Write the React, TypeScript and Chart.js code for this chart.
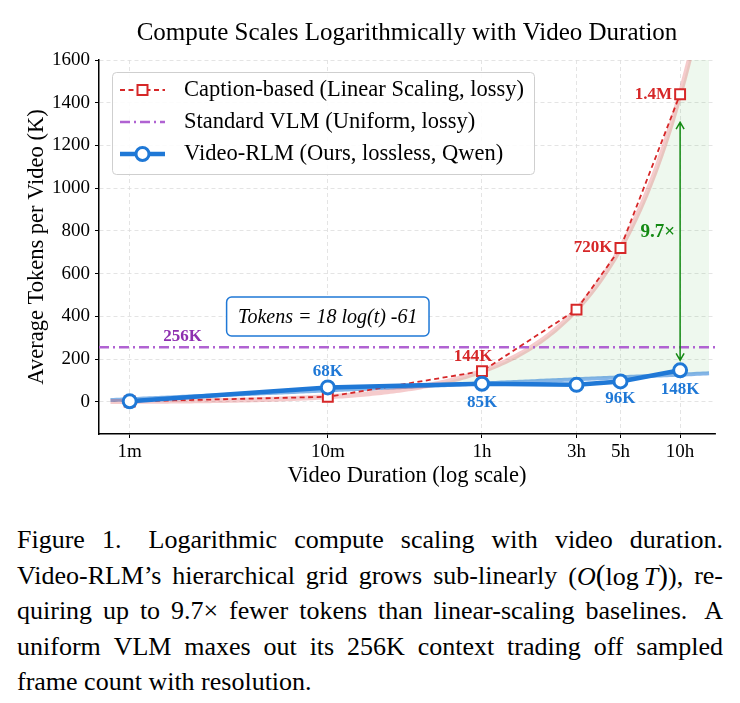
import React, { useEffect, useRef } from "react";
import { Chart, registerables } from "chart.js";

Chart.register(...registerables);

// Video durations in minutes, with their axis labels
const DURATIONS = [1, 10, 60, 180, 300, 600];
const DURATION_LABELS = ["1m", "10m", "1h", "3h", "5h", "10h"];

// Average tokens per video (thousands)
const CAPTION_TOKENS = [2.4, 24, 144, 432, 720, 1440];
const RLM_TOKENS = [3, 68, 85, 80, 96, 148];
const VLM_CONTEXT = 256;

const CAPTION_VALUE_LABELS = ["", "", "144K", "", "720K", "1.4M"];
const RLM_VALUE_LABELS = ["", "68K", "85K", "", "96K", "148K"];

const Y_TICKS = [0, 200, 400, 600, 800, 1000, 1200, 1400, 1600];

// Logarithmic fit of Video-RLM tokens: tokens = slope * ln(seconds) + intercept
const FIT_SLOPE = 18;
const FIT_INTERCEPT = -61;
const FIT_SPAN_MIN = [0.8, 840];

const SERIF = '"Liberation Serif", "Times New Roman", serif';
const RED = "#d62728";
const BLUE = "#1f78d6";
const PURPLE = "#b062d2";
const PURPLE_TEXT = "#8e2fb0";
const GREEN = "#138a13";

const FIT_SAMPLES = 200;
const fitDurations = Array.from({ length: FIT_SAMPLES }, (_, i) =>
  FIT_SPAN_MIN[0] * Math.pow(FIT_SPAN_MIN[1] / FIT_SPAN_MIN[0], i / (FIT_SAMPLES - 1))
);
const captionRate = CAPTION_TOKENS[CAPTION_TOKENS.length - 1] / DURATIONS[DURATIONS.length - 1];
const rlmFit = fitDurations.map((t) => ({ x: t, y: FIT_SLOPE * Math.log(t * 60) + FIT_INTERCEPT }));
const captionFit = fitDurations.map((t) => ({ x: t, y: captionRate * t }));

function drawText(
  ctx: CanvasRenderingContext2D,
  str: string,
  x: number,
  y: number,
  font: string,
  color: string,
  align: CanvasTextAlign = "center"
) {
  ctx.font = font;
  ctx.fillStyle = color;
  ctx.textAlign = align;
  ctx.textBaseline = "middle";
  ctx.fillText(str, x, y);
}

function roundRect(ctx: CanvasRenderingContext2D, x: number, y: number, w: number, h: number, r: number) {
  ctx.beginPath();
  ctx.moveTo(x + r, y);
  ctx.lineTo(x + w - r, y);
  ctx.arcTo(x + w, y, x + w, y + r, r);
  ctx.lineTo(x + w, y + h - r);
  ctx.arcTo(x + w, y + h, x + w - r, y + h, r);
  ctx.lineTo(x + r, y + h);
  ctx.arcTo(x, y + h, x, y + h - r, r);
  ctx.lineTo(x, y + r);
  ctx.arcTo(x, y, x + r, y, r);
  ctx.closePath();
}

const overlayPlugin = {
  id: "overlay",
  afterDatasetsDraw(chart: any) {
    const ctx: CanvasRenderingContext2D = chart.ctx;
    const xs = chart.scales.x;
    const ys = chart.scales.y;
    ctx.save();

    // value labels on the caption-based series
    const bold = `bold 17px ${SERIF}`;
    CAPTION_VALUE_LABELS.forEach((lab, i) => {
      if (!lab) return;
      const px = xs.getPixelForValue(DURATIONS[i]);
      const py = ys.getPixelForValue(CAPTION_TOKENS[i]);
      if (i === 2) drawText(ctx, lab, px - 9, py - 15, bold, RED);
      else drawText(ctx, lab, px - 8, py, bold, RED, "right");
    });

    // value labels on the Video-RLM series
    RLM_VALUE_LABELS.forEach((lab, i) => {
      if (!lab) return;
      const px = xs.getPixelForValue(DURATIONS[i]);
      const py = ys.getPixelForValue(RLM_TOKENS[i]);
      const dy = i === 1 ? -16 : i === 4 ? 17 : 19;
      drawText(ctx, lab, px, py + dy, bold, BLUE);
    });

    // context limit label
    drawText(ctx, `${VLM_CONTEXT}K`, xs.getPixelForValue(1.85), ys.getPixelForValue(VLM_CONTEXT) - 11, bold, PURPLE_TEXT);

    // ratio arrow at the longest duration
    const last = DURATIONS.length - 1;
    const ax = xs.getPixelForValue(DURATIONS[last]);
    const yTop = ys.getPixelForValue(CAPTION_TOKENS[last]) + 28;
    const yBot = ys.getPixelForValue(RLM_TOKENS[last]) - 10;
    ctx.strokeStyle = GREEN;
    ctx.lineWidth = 1.5;
    ctx.beginPath();
    ctx.moveTo(ax, yTop);
    ctx.lineTo(ax, yBot);
    ctx.moveTo(ax - 4, yTop + 7);
    ctx.lineTo(ax, yTop);
    ctx.lineTo(ax + 4, yTop + 7);
    ctx.moveTo(ax - 4, yBot - 7);
    ctx.lineTo(ax, yBot);
    ctx.lineTo(ax + 4, yBot - 7);
    ctx.stroke();
    const ratio = CAPTION_TOKENS[last] / RLM_TOKENS[last];
    const midY = ys.getPixelForValue((CAPTION_TOKENS[last] + RLM_TOKENS[last]) / 2);
    drawText(ctx, `${ratio.toFixed(1)}\u00d7`, ax - 5, midY, `bold 19px ${SERIF}`, GREEN, "right");

    // fit formula box
    const formula = `Tokens = ${FIT_SLOPE} log(t) ${FIT_INTERCEPT}`;
    const bx = xs.getPixelForValue(10);
    const by = ys.getPixelForValue(400);
    const ffont = `italic 20px ${SERIF}`;
    ctx.font = ffont;
    const tw = ctx.measureText(formula).width;
    const bw = tw + 23;
    const bh = 39;
    roundRect(ctx, bx - bw / 2, by - bh / 2, bw, bh, 5);
    ctx.fillStyle = "#ffffff";
    ctx.fill();
    ctx.strokeStyle = BLUE;
    ctx.lineWidth = 1.5;
    ctx.stroke();
    drawText(ctx, formula, bx, by + 1, ffont, "#000");

    ctx.restore();
  },
  afterDraw(chart: any) {
    const ctx: CanvasRenderingContext2D = chart.ctx;
    const area = chart.chartArea;
    const cx = (area.left + area.right) / 2;
    const cy = (area.top + area.bottom) / 2;
    ctx.save();

    drawText(ctx, "Compute Scales Logarithmically with Video Duration", cx, 33, `25px ${SERIF}`, "#000");
    drawText(ctx, "Video Duration (log scale)", cx, 476, `22.5px ${SERIF}`, "#000");
    ctx.save();
    ctx.translate(37, cy);
    ctx.rotate(-Math.PI / 2);
    drawText(ctx, "Average Tokens per Video (K)", 0, 0, `22.5px ${SERIF}`, "#000");
    ctx.restore();

    // legend
    const lx = 112.5, ly = 72.5, lw = 422, lh = 102;
    roundRect(ctx, lx, ly, lw, lh, 4);
    ctx.fillStyle = "rgba(255,255,255,0.9)";
    ctx.fill();
    ctx.strokeStyle = "#cfcfcf";
    ctx.lineWidth = 1;
    ctx.stroke();

    const sx0 = 120, sx1 = 165, mx = 142.5;
    const rows = [90, 122, 154];
    // caption-based
    ctx.strokeStyle = RED;
    ctx.lineWidth = 1.8;
    ctx.setLineDash([5, 3.5]);
    ctx.beginPath();
    ctx.moveTo(sx0, rows[0]);
    ctx.lineTo(sx1, rows[0]);
    ctx.stroke();
    ctx.setLineDash([]);
    ctx.fillStyle = "#fff";
    ctx.lineWidth = 2;
    ctx.fillRect(mx - 5, rows[0] - 5, 10, 10);
    ctx.strokeRect(mx - 5, rows[0] - 5, 10, 10);
    // standard VLM
    ctx.strokeStyle = PURPLE;
    ctx.lineWidth = 2.5;
    ctx.setLineDash([10, 4, 2, 4]);
    ctx.beginPath();
    ctx.moveTo(sx0, rows[1]);
    ctx.lineTo(sx1, rows[1]);
    ctx.stroke();
    ctx.setLineDash([]);
    // Video-RLM
    ctx.strokeStyle = BLUE;
    ctx.lineWidth = 4.5;
    ctx.beginPath();
    ctx.moveTo(sx0, rows[2]);
    ctx.lineTo(sx1, rows[2]);
    ctx.stroke();
    ctx.lineWidth = 3;
    ctx.fillStyle = "#fff";
    ctx.beginPath();
    ctx.arc(mx, rows[2], 6.5, 0, Math.PI * 2);
    ctx.fill();
    ctx.stroke();

    const names = [
      "Caption-based (Linear Scaling, lossy)",
      "Standard VLM (Uniform, lossy)",
      "Video-RLM (Ours, lossless, Qwen)",
    ];
    names.forEach((n, i) => drawText(ctx, n, 184, rows[i], `22.5px ${SERIF}`, "#000", "left"));

    ctx.restore();
  },
};

function ChartCanvas() {
  const ref = useRef<HTMLCanvasElement | null>(null);
  useEffect(() => {
    if (!ref.current) return;
    const tickFont = { family: SERIF, size: 19 };
    const chart = new Chart(ref.current, {
      type: "line",
      data: {
        datasets: [
          {
            label: "log fit",
            data: rlmFit,
            borderColor: "rgba(31,120,214,0.55)",
            borderWidth: 4,
            pointRadius: 0,
            fill: false,
            order: 6,
          },
          {
            label: "linear fit",
            data: captionFit,
            borderColor: "rgba(214,39,40,0.24)",
            borderWidth: 5,
            pointRadius: 0,
            fill: { target: 0, above: "rgba(40,160,40,0.08)", below: "rgba(0,0,0,0)" },
            order: 5,
          },
          {
            label: "Standard VLM (Uniform, lossy)",
            data: [
              { x: 0.7, y: VLM_CONTEXT },
              { x: 900, y: VLM_CONTEXT },
            ],
            borderColor: PURPLE,
            borderWidth: 2.5,
            borderDash: [10, 4, 2, 4],
            pointRadius: 0,
            fill: false,
            order: 3,
          },
          {
            label: "Caption-based (Linear Scaling, lossy)",
            data: DURATIONS.map((d, i) => ({ x: d, y: CAPTION_TOKENS[i] })),
            borderColor: RED,
            borderWidth: 1.8,
            borderDash: [5, 3.5],
            pointStyle: "rect",
            pointRadius: 7,
            pointBorderWidth: 2,
            pointBackgroundColor: "#fff",
            pointBorderColor: RED,
            fill: false,
            order: 2,
          },
          {
            label: "Video-RLM (Ours, lossless, Qwen)",
            data: DURATIONS.map((d, i) => ({ x: d, y: RLM_TOKENS[i] })),
            borderColor: BLUE,
            borderWidth: 4.5,
            pointStyle: "circle",
            pointRadius: 6.5,
            pointBorderWidth: 3,
            pointBackgroundColor: "#fff",
            pointBorderColor: BLUE,
            fill: false,
            order: 1,
          },
        ],
      },
      options: {
        animation: false,
        responsive: false,
        maintainAspectRatio: false,
        devicePixelRatio: 1,
        layout: { padding: { top: 60, right: 25, left: 0, bottom: 0 } },
        plugins: {
          legend: { display: false },
          tooltip: { enabled: false },
          title: { display: false },
          filler: { drawTime: "beforeDatasetsDraw" },
        },
        scales: {
          x: {
            type: "logarithmic",
            min: 0.7,
            max: 900,
            afterBuildTicks: (s: any) => {
              s.ticks = DURATIONS.map((v) => ({ value: v }));
            },
            afterFit: (s: any) => {
              s.height = 66;
            },
            ticks: {
              autoSkip: false,
              maxRotation: 0,
              minRotation: 0,
              padding: 3,
              color: "#000",
              font: tickFont,
              callback: (v: any) => {
                const i = DURATIONS.indexOf(Number(v));
                return i >= 0 ? DURATION_LABELS[i] : "";
              },
            },
            grid: {
              color: "#dddddd",
              lineWidth: 0.8,
              tickColor: "#000",
              tickLength: 4,
              tickWidth: 1,
              tickBorderDash: [],
            },
            border: { display: true, color: "#000", width: 1.5, dash: [4, 3] },
          },
          y: {
            type: "linear",
            min: -150,
            max: 1600,
            afterBuildTicks: (s: any) => {
              s.ticks = Y_TICKS.map((v) => ({ value: v }));
            },
            afterFit: (s: any) => {
              s.width = 99;
            },
            ticks: {
              padding: 5,
              color: "#000",
              font: tickFont,
              callback: (v: any) => String(v),
            },
            grid: {
              color: "#dddddd",
              lineWidth: 0.8,
              tickColor: "#000",
              tickLength: 4,
              tickWidth: 1,
              tickBorderDash: [],
            },
            border: { display: true, color: "#000", width: 1.5, dash: [4, 3] },
          },
        },
      } as any,
      plugins: [overlayPlugin as any],
    });
    return () => chart.destroy();
  }, []);
  return (
    <canvas
      ref={ref}
      width={740}
      height={500}
      style={{ position: "absolute", left: 0, top: 0, width: 740, height: 500 }}
    />
  );
}

const justifiedRow = (words: React.ReactNode[], key: number) => (
  <div
    key={key}
    style={{
      display: "flex",
      justifyContent: "space-between",
      whiteSpace: "nowrap",
      width: 706,
      height: 35.5,
      lineHeight: "35.5px",
    }}
  >
    {words.map((w, i) => (
      <span key={i}>{w}</span>
    ))}
  </div>
);

function FigureCaption() {
  const rows: React.ReactNode[][] = [
    ["Figure", <span style={{ marginRight: 10 }}>1.</span>, "Logarithmic", "compute", "scaling", "with", "video", "duration."],
    [
      "Video-RLM\u2019s",
      "hierarchical",
      "grid",
      "grows",
      "sub-linearly",
      <span>
        (<i>O</i>
        <span style={{ fontSize: "1.12em" }}>(</span>log&thinsp;<i>T</i>
        <span style={{ fontSize: "1.12em" }}>)</span>),
      </span>,
      "re-",
    ],
    ["quiring", "up", "to", "9.7\u00d7", "fewer", "tokens", "than", "linear-scaling", <span style={{ marginRight: 6 }}>baselines.</span>, "A"],
    ["uniform", "VLM", "maxes", "out", "its", "256K", "context", "trading", "off", "sampled"],
  ];
  return (
    <div
      style={{
        position: "absolute",
        left: 17,
        top: 522,
        width: 706,
        fontFamily: SERIF,
        fontSize: 26,
        color: "#000",
      }}
    >
      {rows.map((r, i) => justifiedRow(r, i))}
      <div style={{ height: 35.5, lineHeight: "35.5px", whiteSpace: "nowrap" }}>frame count with resolution.</div>
    </div>
  );
}

export default function App() {
  return (
    <div
      style={{
        position: "fixed",
        left: 0,
        top: 0,
        width: 740,
        height: 703,
        background: "#fff",
        overflow: "hidden",
      }}
    >
      <ChartCanvas />
      <FigureCaption />
    </div>
  );
}
